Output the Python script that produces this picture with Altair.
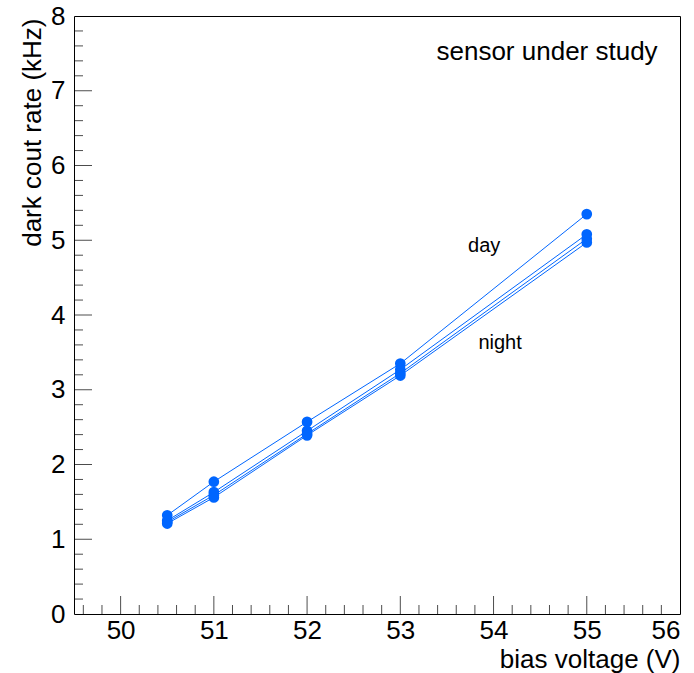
import altair as alt
import pandas as pd

# ---- data ----
bias = [50.5, 51, 52, 53, 55]
series_names = ["day", "night 1", "night 2", "night 3"]
rate_day = [1.32, 1.77, 2.57, 3.35, 5.35]
rate_n1 = [1.25, 1.63, 2.45, 3.27, 5.08]
rate_n2 = [1.23, 1.59, 2.41, 3.22, 5.02]
rate_n3 = [1.21, 1.56, 2.39, 3.19, 4.97]

x_major = [50, 51, 52, 53, 54, 55, 56]
x_minor = [49.6, 49.8, 50.2, 50.4, 50.6, 50.8, 51.2, 51.4, 51.6, 51.8,
           52.2, 52.4, 52.6, 52.8, 53.2, 53.4, 53.6, 53.8, 54.2, 54.4,
           54.6, 54.8, 55.2, 55.4, 55.6, 55.8]
y_major = [0, 1, 2, 3, 4, 5, 6, 7, 8]
y_minor = [0.2, 0.4, 0.6, 0.8, 1.2, 1.4, 1.6, 1.8, 2.2, 2.4, 2.6, 2.8,
           3.2, 3.4, 3.6, 3.8, 4.2, 4.4, 4.6, 4.8, 5.2, 5.4, 5.6, 5.8,
           6.2, 6.4, 6.6, 6.8, 7.2, 7.4, 7.6, 7.8]

ann_text = ["day", "night"]
ann_x = [53.9, 54.07]
ann_y = [4.92, 3.63]

title_text = ["sensor under study"]
title_x = [55.76]
title_y = [7.52]

rows = []
for name, vals in zip(series_names, [rate_day, rate_n1, rate_n2, rate_n3]):
    for b, v in zip(bias, vals):
        rows.append({"series": name, "bias": b, "rate": v})
df = pd.DataFrame(rows)

FONT = "Liberation Sans"
COLOR = "#0066ff"
W, H = 606, 598

xs = alt.Scale(domain=[49.5, 56], nice=False, zero=False)
ys = alt.Scale(domain=[0, 8], nice=False, zero=False)

x_axis = alt.Axis(values=x_major, ticks=False, domain=False, grid=False,
                  labelFontSize=26, labelFont=FONT, labelColor="black",
                  labelPadding=3, format="d",
                  title="bias voltage (V)", titleFont=FONT, titleFontSize=26,
                  titleFontWeight="normal", titleColor="black",
                  titleAnchor="end", titleAlign="right", titleX=W, titleY=53,
                  titleBaseline="alphabetic")
y_axis = alt.Axis(values=y_major, ticks=False, domain=False, grid=False,
                  labelFontSize=26, labelFont=FONT, labelColor="black",
                  labelPadding=9, format="d",
                  title="dark cout rate (kHz)", titleFont=FONT, titleFontSize=26,
                  titleFontWeight="normal", titleColor="black",
                  titleAngle=270, titleAlign="right", titleBaseline="middle",
                  titleX=-42, titleY=2)

lines = alt.Chart(df).mark_line(color=COLOR, strokeWidth=1).encode(
    x=alt.X("bias:Q", scale=xs, axis=x_axis),
    y=alt.Y("rate:Q", scale=ys, axis=y_axis),
    detail="series:N",
)
points = alt.Chart(df).mark_point(filled=True, color=COLOR, size=115, opacity=1).encode(
    x=alt.X("bias:Q", scale=xs),
    y=alt.Y("rate:Q", scale=ys),
)

ann = alt.Chart(pd.DataFrame({"t": ann_text, "x": ann_x, "y": ann_y})).mark_text(
    font=FONT, fontSize=20, color="black", align="center", baseline="middle"
).encode(x=alt.X("x:Q", scale=xs), y=alt.Y("y:Q", scale=ys), text="t:N")

ttl = alt.Chart(pd.DataFrame({"t": title_text, "x": title_x, "y": title_y})).mark_text(
    font=FONT, fontSize=26, color="black", align="right", baseline="middle"
).encode(x=alt.X("x:Q", scale=xs), y=alt.Y("y:Q", scale=ys), text="t:N")

xmaj = alt.Chart(pd.DataFrame({"v": x_major[:-1]})).mark_tick(
    color="black", size=18, thickness=1
).encode(x=alt.X("v:Q", scale=xs), y=alt.value(H - 9))
xmin = alt.Chart(pd.DataFrame({"v": x_minor})).mark_tick(
    color="black", size=9, thickness=1
).encode(x=alt.X("v:Q", scale=xs), y=alt.value(H - 4.5))
ymaj = alt.Chart(pd.DataFrame({"v": y_major[1:-1]})).mark_tick(
    color="black", size=18, thickness=1
).encode(y=alt.Y("v:Q", scale=ys), x=alt.value(9))
ymin = alt.Chart(pd.DataFrame({"v": y_minor})).mark_tick(
    color="black", size=9, thickness=1
).encode(y=alt.Y("v:Q", scale=ys), x=alt.value(4.5))

chart = alt.layer(lines, points, ann, ttl, xmaj, xmin, ymaj, ymin).properties(
    width=W, height=H,
    autosize=alt.AutoSizeParams(type="none"),
    padding={"left": 74, "top": 16, "right": 14, "bottom": 59},
    background="white",
).configure_view(stroke="black", strokeWidth=1)

chart.save("out.html", embed_options={"renderer": "svg", "actions": False})
